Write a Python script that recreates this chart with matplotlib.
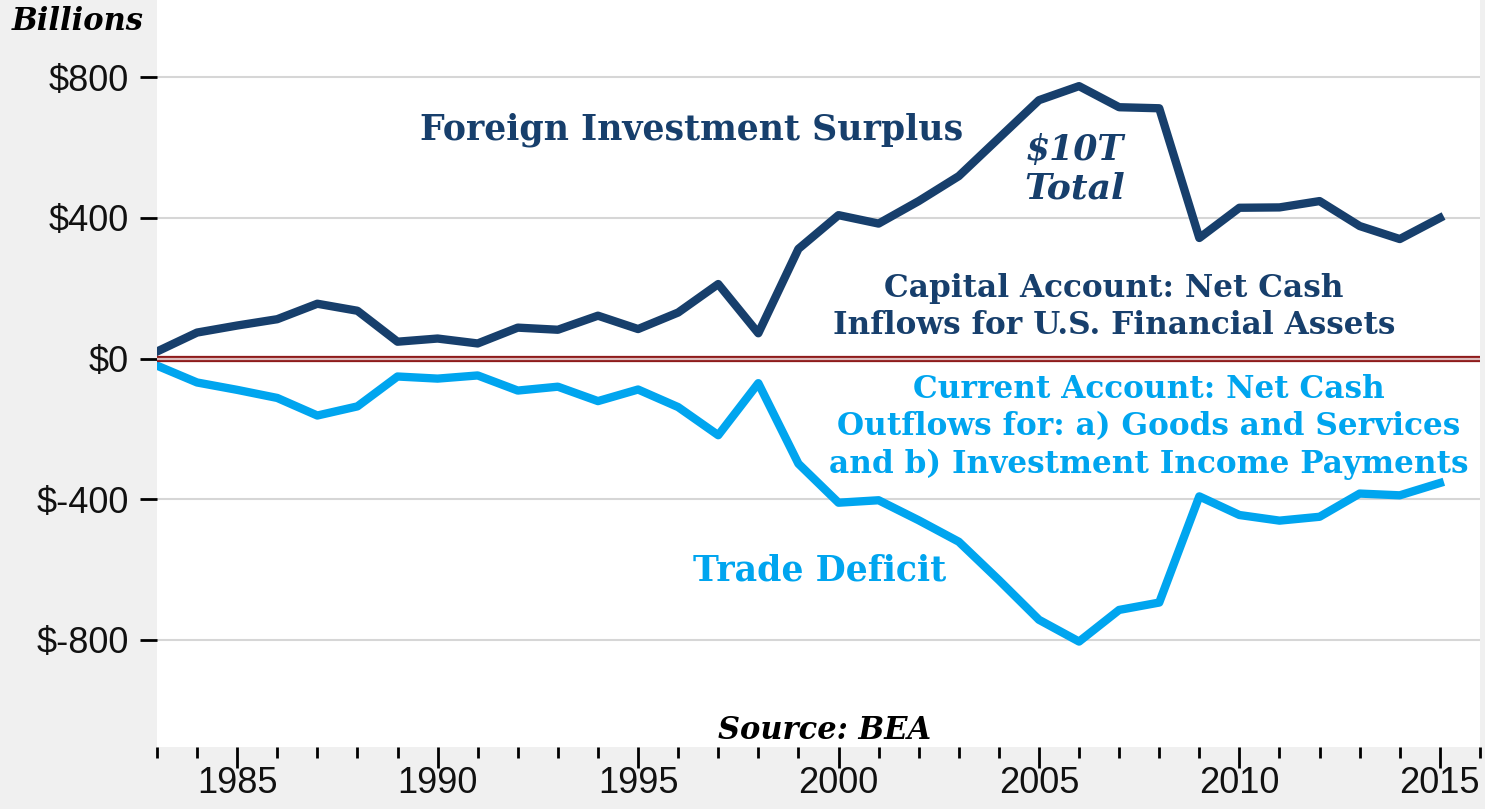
import matplotlib.pyplot as plt
from matplotlib.ticker import MultipleLocator, FuncFormatter

# data (billions of dollars)
years = list(range(1983, 2016))
foreign_surplus = [20, 74, 94, 112, 156, 136, 48, 57, 43, 88, 82, 122, 84,
                   131, 212, 72, 312, 408, 384, 448, 519, 627, 735, 775, 715,
                   712, 343, 429, 430, 448, 377, 340, 400]
trade_deficit = [-20, -68, -89, -112, -162, -136, -51, -57, -48, -91, -80, -121, -88,
                 -138, -218, -70, -299, -410, -403, -460, -521, -630, -743, -805, -715,
                 -694, -392, -445, -461, -450, -384, -389, -354]
y_ticks = [-800, -400, 0, 400, 800]
x_ticks = [1985, 1990, 1995, 2000, 2005, 2010, 2015]

NAVY = "#173f6c"
SKY = "#00a5ef"
SERIF = "DejaVu Serif"
SANS = "Liberation Sans"

fig = plt.figure(figsize=(14.85, 8.09), dpi=100, facecolor="#f0f0f0")
ax = fig.add_axes([0.1057, 0.0766, 0.8909, 0.9234])
ax.set_facecolor("white")

ax.plot(years, foreign_surplus, color=NAVY, lw=6, solid_joinstyle="round", zorder=3)
ax.plot(years, trade_deficit, color=SKY, lw=6, solid_joinstyle="round", zorder=3)

# zero line: dark red double rule
ax.axhline(0, color="#8e1b1b", lw=4.5, zorder=4)
ax.axhline(0, color="#dcbcbc", lw=1.6, zorder=5)

ax.set_xlim(1983, 2016)
ax.set_ylim(-1105, 1020)
ax.set_yticks(y_ticks)
ax.yaxis.set_major_formatter(FuncFormatter(lambda v, p: f"${int(v)}"))
ax.set_xticks(x_ticks)
ax.xaxis.set_minor_locator(MultipleLocator(1))
ax.grid(axis="y", color="#d6d6d6", lw=1.5, zorder=1)

for s in ax.spines.values():
    s.set_visible(False)
ax.tick_params(axis="y", length=12, width=2, color="black", pad=8,
               labelsize=26, labelcolor="#111111")
ax.tick_params(axis="x", which="major", length=15, width=2, pad=-1,
               labelsize=26, labelcolor="#111111")
ax.tick_params(axis="x", which="minor", length=8, width=2)
for lab in ax.get_xticklabels() + ax.get_yticklabels():
    lab.set_fontfamily(SANS)

# annotations
fig.text(12 / 1485, 1 - 22 / 809, "Billions", family=SERIF, weight="bold",
         style="italic", fontsize=22, ha="left", va="center")
ax.text(1989.55, 650, "Foreign Investment Surplus", family=SERIF, weight="bold",
        color=NAVY, fontsize=25, ha="left", va="center")
ax.text(2005.9, 593, "$10T", family=SERIF, weight="bold", style="italic",
        color=NAVY, fontsize=25, ha="center", va="center")
ax.text(2005.9, 485, "Total", family=SERIF, weight="bold", style="italic",
        color=NAVY, fontsize=26, ha="center", va="center")
ax.text(2006.87, 148, "Capital Account: Net Cash\nInflows for U.S. Financial Assets",
        family=SERIF, weight="bold", color=NAVY, fontsize=22.4, ha="center",
        va="center", linespacing=1.25)
ax.text(2007.73, -195, "Current Account: Net Cash\nOutflows for: a) Goods and Services\n"
        "and b) Investment Income Payments", family=SERIF, weight="bold",
        color=SKY, fontsize=22.4, ha="center", va="center", linespacing=1.25)
ax.text(1999.53, -602, "Trade Deficit", family=SERIF, weight="bold",
        color=SKY, fontsize=25, ha="center", va="center")
ax.text(1999.66, -1057, "Source: BEA", family=SERIF, weight="bold", style="italic",
        color="black", fontsize=22, ha="center", va="center")

fig.savefig("out.png", dpi=100, facecolor=fig.get_facecolor())
